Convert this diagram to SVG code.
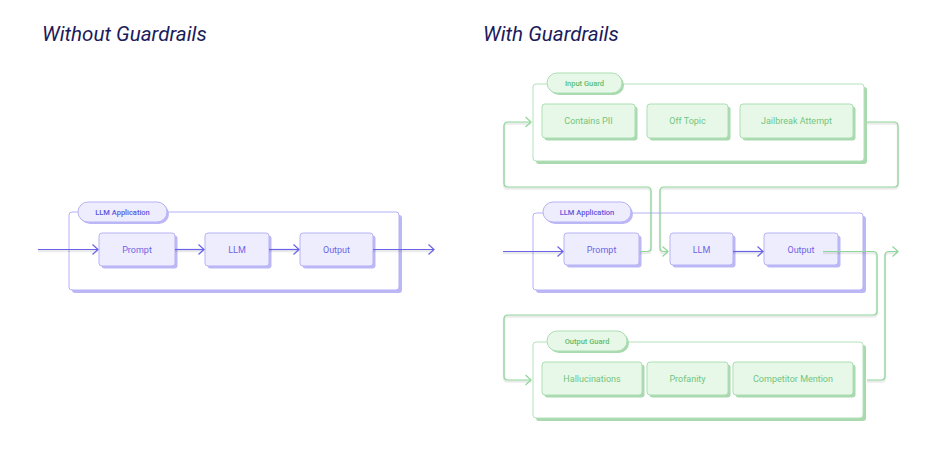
<svg xmlns="http://www.w3.org/2000/svg" width="951" height="459" viewBox="0 0 951 459">
<defs>
<style>
.title{font-family:Roboto,"Liberation Sans",sans-serif;font-style:italic;font-size:20.6px;fill:#1b1b5c}
.cont{fill:#fff;stroke-width:1}
.pc{stroke:#b4b0f6}.gc{stroke:#b3e2b9}
.psh{fill:#bcb8f6}.gsh{fill:#a8d9af}
.pbox{fill:#eeedfd;stroke:#b7b3f6;stroke-width:1}
.gbox{fill:#e7f8e8;stroke:#acdeb3;stroke-width:1}
.pt{font-family:Roboto,"Liberation Sans",sans-serif;font-size:9px;fill:#6c65e6;text-anchor:middle;dominant-baseline:central}
.gt{font-family:Roboto,"Liberation Sans",sans-serif;font-size:9px;fill:#72c57f;text-anchor:middle;dominant-baseline:central}
.pl{font-family:Roboto,"Liberation Sans",sans-serif;font-size:7.5px;font-weight:500;fill:#5c55dc;text-anchor:middle;dominant-baseline:central}
.gl{font-family:Roboto,"Liberation Sans",sans-serif;font-size:7.5px;font-weight:500;fill:#5fbd6e;text-anchor:middle;dominant-baseline:central}
.line{fill:none;stroke-width:1.2}
.pline{stroke:#6a62e8}
.gline{stroke:#8ed69a}
.shadow{fill:none;stroke:#000;stroke-opacity:0.08;stroke-width:2.5}
</style>
<marker id="pa" viewBox="0 0 8 12" refX="7" refY="6" markerWidth="8" markerHeight="12" markerUnits="userSpaceOnUse" orient="auto"><path d="M1.5,1 L7,6 L1.5,11" fill="none" stroke="#6a62e8" stroke-width="1.2"/></marker>
<marker id="ga" viewBox="0 0 8 12" refX="7" refY="6" markerWidth="8" markerHeight="12" markerUnits="userSpaceOnUse" orient="auto"><path d="M1.5,1 L7,6 L1.5,11" fill="none" stroke="#8ed69a" stroke-width="1.2"/></marker>
</defs>
<rect width="951" height="459" fill="#fff"/>
<text class="title" x="42" y="41">Without Guardrails</text>
<text class="title" x="483" y="41">With Guardrails</text>

<!-- Left: LLM Application -->
<g id="left-app">
<rect class="psh" x="72" y="215" width="330" height="78" rx="3"/>
<rect class="cont pc" x="69" y="212" width="330" height="78" rx="3"/>
<rect class="psh" x="80" y="204" width="89" height="20" rx="10"/>
<rect class="pbox" x="78" y="202" width="89" height="20" rx="10"/>
<text class="pl" x="122.5" y="212">LLM Application</text>
</g>
<g id="left-prompt"><rect class="psh" x="101.5" y="235.5" width="76" height="33" rx="3"/><rect class="pbox" x="99" y="233" width="76" height="33" rx="3"/><text class="pt" x="137" y="249.5">Prompt</text></g>
<g id="left-llm"><rect class="psh" x="207.5" y="235.5" width="64" height="33" rx="3"/><rect class="pbox" x="205" y="233" width="64" height="33" rx="3"/><text class="pt" x="237" y="249.5">LLM</text></g>
<g id="left-output"><rect class="psh" x="302.5" y="235.5" width="73" height="33" rx="3"/><rect class="pbox" x="300" y="233" width="73" height="33" rx="3"/><text class="pt" x="336.5" y="249.5">Output</text></g>

<!-- Right: Input Guard -->
<g id="input-guard">
<rect class="gsh" x="536" y="87" width="331" height="77" rx="3"/>
<rect class="cont gc" x="533" y="84" width="331" height="77" rx="3"/>
<rect class="gsh" x="549" y="75" width="75" height="20" rx="10"/>
<rect class="gbox" x="547" y="73" width="75" height="20" rx="10"/>
<text class="gl" x="584.5" y="83">Input Guard</text>
</g>
<g id="contains-pii"><rect class="gsh" x="544.5" y="106.5" width="93" height="34" rx="3"/><rect class="gbox" x="542" y="104" width="93" height="34" rx="3"/><text class="gt" x="588.5" y="121">Contains PII</text></g>
<g id="off-topic"><rect class="gsh" x="649.5" y="106.5" width="81" height="34" rx="3"/><rect class="gbox" x="647" y="104" width="81" height="34" rx="3"/><text class="gt" x="687.5" y="121">Off Topic</text></g>
<g id="jailbreak"><rect class="gsh" x="742.5" y="106.5" width="113" height="34" rx="3"/><rect class="gbox" x="740" y="104" width="113" height="34" rx="3"/><text class="gt" x="796.5" y="121">Jailbreak Attempt</text></g>

<!-- Right: LLM Application -->
<g id="right-app">
<rect class="psh" x="536" y="216" width="330" height="77" rx="3"/>
<rect class="cont pc" x="533" y="213" width="330" height="77" rx="3"/>
<rect class="psh" x="545" y="204" width="88" height="20" rx="10"/>
<rect class="pbox" x="543" y="202" width="88" height="20" rx="10"/>
<text class="pl" x="587" y="212">LLM Application</text>
</g>
<g id="right-prompt"><rect class="psh" x="566.5" y="235.5" width="75" height="32" rx="3"/><rect class="pbox" x="564" y="233" width="75" height="32" rx="3"/><text class="pt" x="601.5" y="250">Prompt</text></g>
<g id="right-llm"><rect class="psh" x="672.5" y="235.5" width="63" height="32" rx="3"/><rect class="pbox" x="670" y="233" width="63" height="32" rx="3"/><text class="pt" x="701.5" y="250">LLM</text></g>
<g id="right-output"><rect class="psh" x="766.5" y="235.5" width="74" height="32" rx="3"/><rect class="pbox" x="764" y="233" width="74" height="32" rx="3"/><text class="pt" x="801" y="250">Output</text></g>

<!-- Right: Output Guard -->
<g id="output-guard">
<rect class="gsh" x="536" y="345" width="330" height="76" rx="3"/>
<rect class="cont gc" x="533" y="342" width="330" height="76" rx="3"/>
<rect class="gsh" x="549" y="333" width="80" height="20" rx="10"/>
<rect class="gbox" x="547" y="331" width="80" height="20" rx="10"/>
<text class="gl" x="587" y="341">Output Guard</text>
</g>
<g id="hallucinations"><rect class="gsh" x="544.5" y="364.5" width="100" height="33" rx="3"/><rect class="gbox" x="542" y="362" width="100" height="33" rx="3"/><text class="gt" x="592" y="378.5">Hallucinations</text></g>
<g id="profanity"><rect class="gsh" x="649.5" y="364.5" width="81" height="33" rx="3"/><rect class="gbox" x="647" y="362" width="81" height="33" rx="3"/><text class="gt" x="687.5" y="378.5">Profanity</text></g>
<g id="competitor"><rect class="gsh" x="735.5" y="364.5" width="120" height="33" rx="3"/><rect class="gbox" x="733" y="362" width="120" height="33" rx="3"/><text class="gt" x="793" y="378.5">Competitor Mention</text></g>

<!-- Connectors -->
<g id="connectors">
<g transform="translate(0,1.5)">
<path class="shadow" d="M38,249.5 H98 M175,249.5 H204 M269,249.5 H299 M373,249.5 H434"/>
<path class="shadow" d="M503,251.5 H563 M733,251.5 H763"/>
<path class="shadow" d="M640,251.5 H647 Q651,251.5 651,247.5 V191 Q651,187 647,187 H508 Q504,187 504,183 V126 Q504,122 508,122 H531"/>
<path class="shadow" d="M867,122 H894 Q898,122 898,126 V183 Q898,187 894,187 H664 Q660,187 660,191 V247.5 Q660,251.5 664,251.5 H668"/>
<path class="shadow" d="M823,251.5 H873 Q877,251.5 877,255.5 V311 Q877,315 873,315 H508 Q504,315 504,319 V376 Q504,380 508,380 H531"/>
<path class="shadow" d="M867,380 H881 Q885,380 885,376 V255.5 Q885,251.5 889,251.5 H898"/>
</g>
<path class="line pline" d="M38,249.5 H98" marker-end="url(#pa)"/>
<path class="line pline" d="M175,249.5 H204" marker-end="url(#pa)"/>
<path class="line pline" d="M269,249.5 H299" marker-end="url(#pa)"/>
<path class="line pline" d="M373,249.5 H434" marker-end="url(#pa)"/>
<path class="line pline" d="M503,251.5 H563" marker-end="url(#pa)"/>
<path class="line pline" d="M733,251.5 H763" marker-end="url(#pa)"/>
<path class="line gline" d="M640,251.5 H647 Q651,251.5 651,247.5 V191 Q651,187 647,187 H508 Q504,187 504,183 V126 Q504,122 508,122 H531" marker-end="url(#ga)"/>
<path class="line gline" d="M867,122 H894 Q898,122 898,126 V183 Q898,187 894,187 H664 Q660,187 660,191 V247.5 Q660,251.5 664,251.5 H668" marker-end="url(#ga)"/>
<path class="line gline" d="M823,251.5 H873 Q877,251.5 877,255.5 V311 Q877,315 873,315 H508 Q504,315 504,319 V376 Q504,380 508,380 H531" marker-end="url(#ga)"/>
<path class="line gline" d="M867,380 H881 Q885,380 885,376 V255.5 Q885,251.5 889,251.5 H898" marker-end="url(#ga)"/>
</g>
</svg>
